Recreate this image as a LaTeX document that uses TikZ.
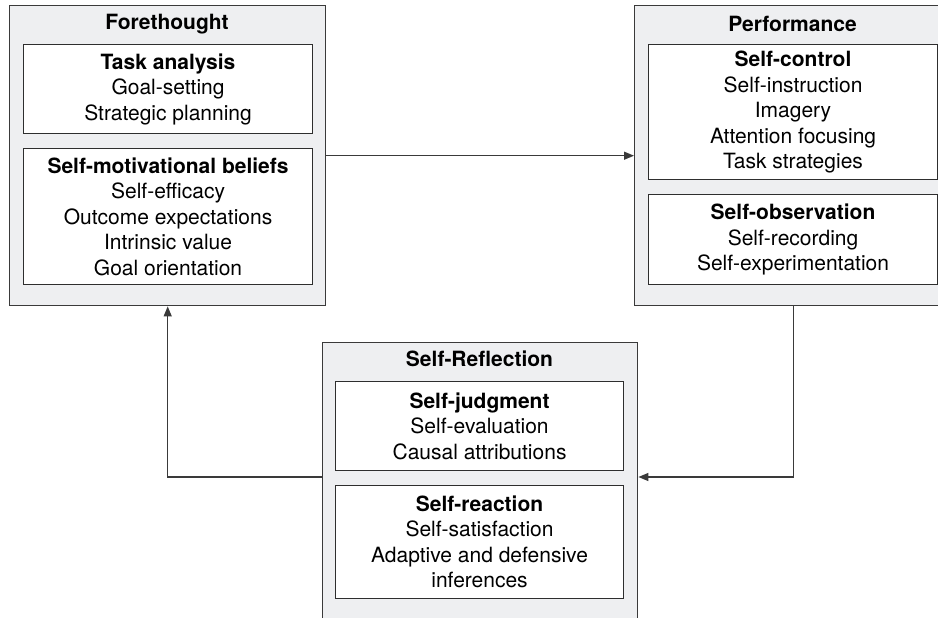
\documentclass[tikz,border=0pt]{standalone}
\usepackage{fontspec}
\setmainfont{TeX Gyre Heros}
\usetikzlibrary{arrows.meta}
\definecolor{panelfill}{HTML}{EEEFF1}
\definecolor{edge}{HTML}{3A3A3A}
\tikzset{
  phase/.style={draw=edge, line width=1.4pt, fill=panelfill, anchor=north west, inner sep=0pt},
  sub/.style={draw=edge!80!black, line width=1.1pt, fill=white, anchor=north west,
    inner sep=0pt, align=center, font=\fontsize{21}{25.5}\selectfont},
  heading/.style={font=\fontsize{21}{25.5}\selectfont\bfseries, inner sep=0pt},
  flow/.style={draw=edge, line width=1.3pt, -{Triangle[length=10pt,width=8pt]}},
}
\begin{document}
\begin{tikzpicture}[x=1pt,y=-1pt]
\useasboundingbox (0,0) rectangle (938,618);
\clip (0,0) rectangle (938,618);

% phase panels
\node[phase, minimum width=316pt, minimum height=300pt] (fore) at (9,5) {};
\node[phase, minimum width=317pt, minimum height=300pt] (perf) at (634,5) {};
\node[phase, minimum width=315pt, minimum height=280pt] (refl) at (322,342) {};

\node[heading] (foreT) at (167,24) {Forethought};
\node[heading] (perfT) at (792.5,24) {Performance};
\node[heading] (reflT) at (479.5,359) {Self-Reflection};

% sub-process boxes
\node[sub, minimum width=289pt, minimum height=89pt] (ta) at (23,44)
  {\textbf{Task analysis}\\Goal-setting\\Strategic planning};
\node[sub, minimum width=289pt, minimum height=136pt] (smb) at (23,148)
  {\textbf{Self-motivational beliefs}\\Self-efficacy\\Outcome expectations\\Intrinsic value\\Goal orientation};
\node[sub, minimum width=289pt, minimum height=135pt] (sc) at (648,44)
  {\textbf{Self-control}\\Self-instruction\\Imagery\\Attention focusing\\Task strategies};
\node[sub, minimum width=289pt, minimum height=90pt] (so) at (648,194)
  {\textbf{Self-observation}\\Self-recording\\Self-experimentation};
\node[sub, minimum width=288pt, minimum height=89pt] (sj) at (335,381)
  {\textbf{Self-judgment}\\Self-evaluation\\Causal attributions};
\node[sub, minimum width=288pt, minimum height=113pt] (sr) at (335,485)
  {\textbf{Self-reaction}\\Self-satisfaction\\Adaptive and defensive\\inferences};

% cyclical flow
\coordinate (loopY) at (0,477);
\draw[flow] (fore.east) -- (perf.west);
\draw[flow] (perf.south) |- (refl.east |- loopY);
\draw[flow] (refl.west |- loopY) -| (fore.south);
\end{tikzpicture}
\end{document}
